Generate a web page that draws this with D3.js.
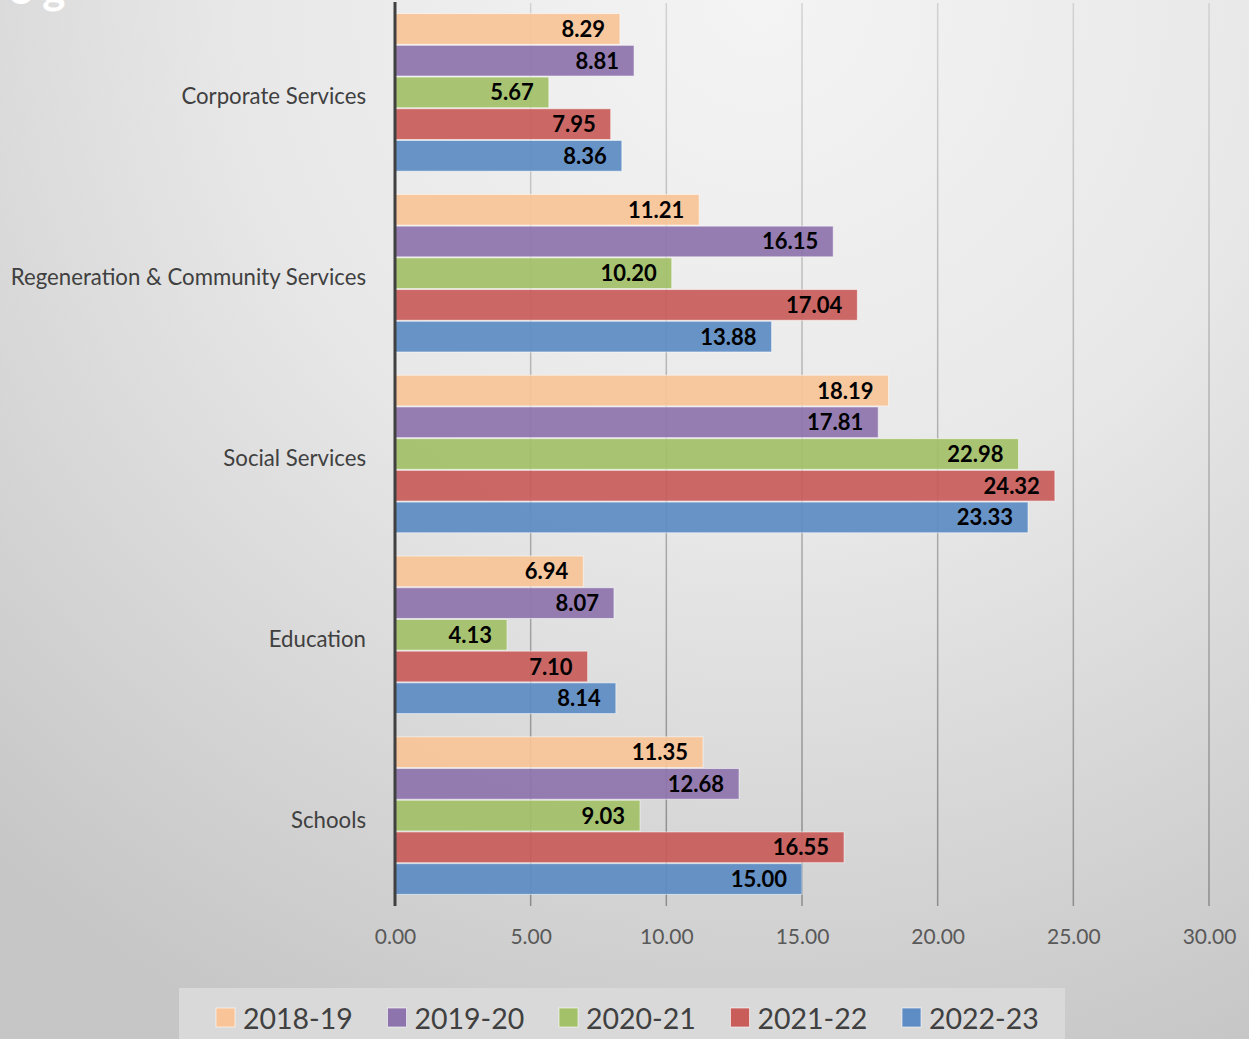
<!DOCTYPE html>
<html>
<head>
<meta charset="utf-8">
<script src="https://cdn.jsdelivr.net/npm/d3@7"></script>
<style>
  html, body { margin: 0; padding: 0; background: #ddd; }
  svg { display: block; }
</style>
</head>
<body>
<div id="chart"></div>
<script>
// data
const categories = ["Corporate Services", "Regeneration & Community Services", "Social Services", "Education", "Schools"];
const seriesNames = ["2018-19", "2019-20", "2020-21", "2021-22", "2022-23"];
const values2018 = [8.29, 11.21, 18.19, 6.94, 11.35];
const values2019 = [8.81, 16.15, 17.81, 8.07, 12.68];
const values2020 = [5.67, 10.20, 22.98, 4.13, 9.03];
const values2021 = [7.95, 17.04, 24.32, 7.10, 16.55];
const values2022 = [8.36, 13.88, 23.33, 8.14, 15.00];
const seriesValues = [values2018, values2019, values2020, values2021, values2022];
const colors = ["#f8c498", "#8e74ad", "#a3c168", "#c85d5a", "#5e8cc4"];
const tickValues = [0, 5, 10, 15, 20, 25, 30];

const width = 1249, height = 1039;
const font = "Lato, 'Open Sans', sans-serif";

const svg = d3.select("#chart").append("svg")
    .attr("width", width)
    .attr("height", height);

const defs = svg.append("defs");

// background gradient, lighter near the top centre
const bg = defs.append("radialGradient")
    .attr("id", "bg")
    .attr("gradientUnits", "userSpaceOnUse")
    .attr("cx", 760).attr("cy", 0).attr("r", 1150);
bg.append("stop").attr("offset", "0%").attr("stop-color", "#f4f4f4");
bg.append("stop").attr("offset", "45%").attr("stop-color", "#e8e8e8");
bg.append("stop").attr("offset", "100%").attr("stop-color", "#c6c6c6");

const gridGrad = defs.append("linearGradient")
    .attr("id", "grid")
    .attr("gradientUnits", "userSpaceOnUse")
    .attr("x1", 0).attr("x2", 0).attr("y1", 0).attr("y2", 906);
gridGrad.append("stop").attr("offset", "0%").attr("stop-color", "#d2d2d2");
gridGrad.append("stop").attr("offset", "100%").attr("stop-color", "#8c8c8c");

svg.append("rect")
    .attr("width", width)
    .attr("height", height)
    .attr("fill", "url(#bg)");

// clipped heading fragment at the very top
svg.append("text")
    .attr("x", 8).attr("y", 4)
    .attr("font-family", font)
    .attr("font-weight", "bold")
    .attr("font-size", 44)
    .attr("fill", "#ffffff")
    .text("e g");

// scales
const x = d3.scaleLinear().domain([0, 30]).range([395, 1209]);
const y = d3.scaleBand().domain(categories).range([2, 906])
    .paddingInner(0.123).paddingOuter(0.0615);
const ySub = d3.scaleBand().domain(seriesNames).range([0, y.bandwidth()]);

// gridlines + tick marks (they run past the plot a little)
svg.append("g")
    .selectAll("line")
    .data(tickValues.filter(d => d > 0))
    .join("line")
    .attr("x1", d => x(d)).attr("x2", d => x(d))
    .attr("y1", 3).attr("y2", 906)
    .attr("stroke", "url(#grid)")
    .attr("stroke-width", 1.5);

// bars
const groups = svg.append("g")
    .selectAll("g")
    .data(categories)
    .join("g")
    .attr("transform", d => `translate(0,${y(d)})`);

groups.each(function (cat, ci) {
    const g = d3.select(this);
    seriesNames.forEach((s, si) => {
        const v = seriesValues[si][ci];
        g.append("rect")
            .attr("x", x(0))
            .attr("y", ySub(s) + 0.5)
            .attr("width", x(v) - x(0))
            .attr("height", ySub.bandwidth() - 1)
            .attr("fill", colors[si])
            .attr("fill-opacity", 0.93)
            .attr("stroke", "#ffffff")
            .attr("stroke-opacity", 0.55)
            .attr("stroke-width", 1);
        g.append("text")
            .attr("x", x(v) - 15)
            .attr("y", ySub(s) + ySub.bandwidth() / 2 + 8)
            .attr("text-anchor", "end")
            .attr("font-family", font)
            .attr("font-weight", "bold")
            .attr("font-size", 22)
            .attr("fill", "#000000")
            .text(v.toFixed(2));
    });
});

// category axis line
svg.append("line")
    .attr("x1", x(0)).attr("x2", x(0))
    .attr("y1", 2).attr("y2", 906)
    .attr("stroke", "#404040")
    .attr("stroke-width", 3);

// category labels
svg.append("g")
    .selectAll("text")
    .data(categories)
    .join("text")
    .attr("x", 366)
    .attr("y", d => y(d) + y.bandwidth() / 2 + 12)
    .attr("text-anchor", "end")
    .attr("font-family", font)
    .attr("font-size", 22.2)
    .attr("fill", "#404040")
    .text(d => d);

// value axis labels
const xAxis = d3.axisBottom(x)
    .tickValues(tickValues)
    .tickFormat(d => d.toFixed(2))
    .tickSize(0)
    .tickPadding(0);

const xg = svg.append("g")
    .attr("transform", "translate(0,929)")
    .call(xAxis);
xg.select(".domain").remove();
xg.selectAll("text")
    .attr("font-family", font)
    .attr("font-size", 21)
    .attr("fill", "#595959");

// legend
svg.append("rect")
    .attr("x", 179).attr("y", 988)
    .attr("width", 886).attr("height", 60)
    .attr("fill", "#d9d9d9");

const legend = svg.append("g")
    .selectAll("g")
    .data(seriesNames)
    .join("g")
    .attr("transform", (d, i) => `translate(${216 + i * 171.5},1008)`);

legend.append("rect")
    .attr("width", 19).attr("height", 19)
    .attr("fill", (d, i) => colors[i])
    .attr("stroke", "#ffffff")
    .attr("stroke-opacity", 0.6);

legend.append("text")
    .attr("x", 27)
    .attr("y", 21)
    .attr("font-family", font)
    .attr("font-size", 28.5)
    .attr("fill", "#404040")
    .text(d => d);
</script>
</body>
</html>
